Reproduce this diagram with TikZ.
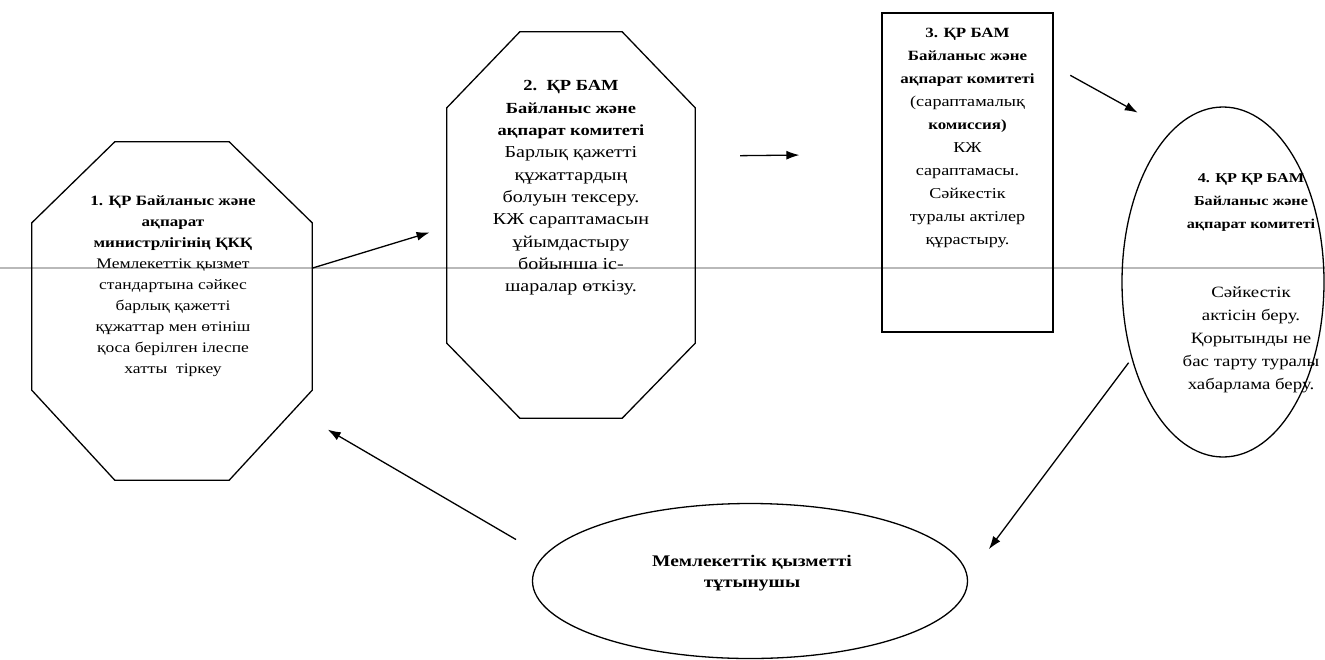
\documentclass[tikz,border=0pt]{standalone}
\usepackage{fontspec}
\setmainfont{Liberation Serif}[FakeStretch=1.2]
\usetikzlibrary{shapes.geometric}
\usetikzlibrary{arrows.meta}

\tikzset{
  box/.style={draw,line width=1.3pt,inner sep=0pt},
  area/.style={inner sep=0pt},
  txt/.style={align=center,inner sep=0pt},
  flow/.style={line width=1.3pt,-{Latex[length=13pt,width=9pt]}}
}

\begin{document}
\begin{tikzpicture}[x=1pt,y=-1pt]

            \useasboundingbox (0,0) rectangle (1325,659);
            %\draw [help lines,step=50] (0,0) grid (1325,659);

            % grey scan line
            \draw[gray!55,line width=1.4pt] (0,268) -- (1325,268);

            \path   (172,311) node (a) [area,minimum width=280pt,minimum height=338pt] {}
                    (571,225) node (b) [area,minimum width=248pt,minimum height=386pt] {}
                    (967.5,172.5) node (c) [box,rectangle,minimum width=171pt,minimum height=319pt] {}
                    (1223,282) node (d) [box,ellipse,minimum width=202pt,minimum height=350pt] {}
                    (750,581) node (e) [box,ellipse,minimum width=435pt,minimum height=155pt] {};

            % octagons round a and b
            \draw[box] ([xshift=83pt]a.north west) -- ([xshift=-83pt]a.north east) -- ([yshift=-81pt]a.north east)
                -- ([yshift=90pt]a.south east) -- ([xshift=-83pt]a.south east) -- ([xshift=83pt]a.south west)
                -- ([yshift=90pt]a.south west) -- ([yshift=-81pt]a.north west) -- cycle;
            \draw[box] ([xshift=73pt]b.north west) -- ([xshift=-73pt]b.north east) -- ([yshift=-76pt]b.north east)
                -- ([yshift=75pt]b.south east) -- ([xshift=-73pt]b.south east) -- ([xshift=73pt]b.south west)
                -- ([yshift=75pt]b.south west) -- ([yshift=-76pt]b.north west) -- cycle;

            \path   (173,286) node (ta) [txt,font=\fontsize{14.6}{21}\selectfont] {\textbf{\fontsize{14.2}{21}\selectfont 1. ҚР Байланыс және}\\ \textbf{\fontsize{14.2}{21}\selectfont ақпарат}\\ \textbf{\fontsize{14.2}{21}\selectfont министрлігінің ҚКҚ}\\
                        Мемлекеттік қызмет\\ стандартына сәйкес\\ барлық қажетті\\ құжаттар мен өтініш\\ қоса берілген ілеспе\\ хатты\ \ тіркеу}
                    (571,188) node (tb) [txt,font=\fontsize{16.7}{22.3}\selectfont] {\textbf{\fontsize{15.4}{22.3}\selectfont 2.\ \ ҚР БАМ}\\ \textbf{\fontsize{15.4}{22.3}\selectfont Байланыс және}\\ \textbf{\fontsize{15.4}{22.3}\selectfont ақпарат комитеті}\\
                        Барлық қажетті\\ құжаттардың\\ болуын тексеру.\\ КЖ сараптамасын\\ ұйымдастыру\\ бойынша іс-\\ шаралар өткізу.}
                    (967.5,138) node (tc) [txt,font=\fontsize{15.1}{23}\selectfont] {\textbf{\fontsize{14.1}{23}\selectfont 3. ҚР БАМ}\\ \textbf{\fontsize{14.1}{23}\selectfont Байланыс және}\\ \textbf{\fontsize{14.1}{23}\selectfont ақпарат комитеті}\\
                        (сараптамалық\\ \textbf{\fontsize{14.1}{23}\selectfont комиссия)}\\ КЖ\\ сараптамасы.\\ Сәйкестік\\ туралы актілер\\ құрастыру.}
                    (1251,283) node (td) [txt,font=\fontsize{15.7}{23}\selectfont] {\textbf{\fontsize{13.5}{21}\selectfont 4. ҚР ҚР БАМ}\\ \textbf{\fontsize{13.5}{21}\selectfont Байланыс және}\\ \textbf{\fontsize{13.5}{21}\selectfont ақпарат комитеті}\\[46pt]
                        Сәйкестік\\ актісін беру.\\ Қорытынды не\\ бас тарту туралы\\ хабарлама беру.}
                    (752,573) node (te) [txt,font=\bfseries\fontsize{16.2}{20.5}\selectfont] {Мемлекеттік қызметті\\ тұтынушы};

            \draw[flow,shorten >=18pt] (a.17) -- (b.181);
            \draw[flow,shorten <=45pt,shorten >=82pt] (b.29) -- (c.168);
            \draw[flow,shorten <=19pt,shorten >=38pt] (c.51) -- (d.109);
            \draw[flow,shorten <=5pt,shorten >=35pt] (d.220) -- (e.1);
            \draw[flow,shorten <=32pt,shorten >=18pt] (e.173) -- (a.322);

        \end{tikzpicture}
\end{document}
